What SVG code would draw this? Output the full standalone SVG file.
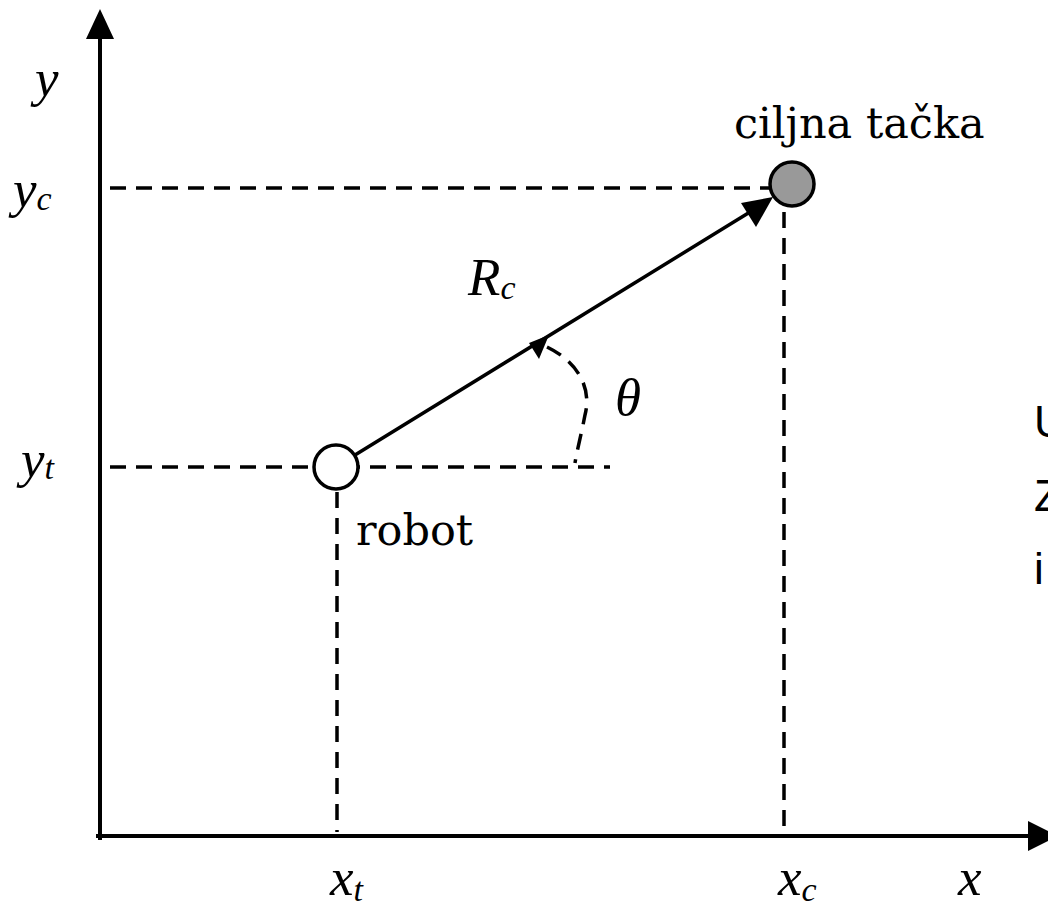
<svg xmlns="http://www.w3.org/2000/svg" width="1048" height="906" viewBox="0 0 1048 906">
<style>
.axis{stroke:#000;stroke-width:4;fill:none}
.dash{stroke:#000;stroke-width:3.5;fill:none;stroke-dasharray:16 10}
.vec{stroke:#000;stroke-width:3.5;fill:none}
.head{fill:#000;stroke:none}
.math{font-family:"Liberation Serif",serif;font-style:italic;font-size:53px;fill:#000}
.sub{font-size:34px}
.lbl{font-family:"DejaVu Serif","Liberation Serif",serif;font-size:43px;fill:#000}
.side{font-family:"Liberation Sans",Arial,sans-serif;font-size:44px;fill:#000}
</style>
<rect width="1048" height="906" fill="#fff"/>
<g id="axes">
  <line class="axis" x1="100" y1="840" x2="100" y2="36"/>
  <polygon class="head" points="100,9 86,39 114,39"/>
  <line class="axis" x1="96" y1="836" x2="1030" y2="836"/>
  <polygon class="head" points="1058,836 1028,821 1028,851"/>
</g>
<g id="connectors">
  <line class="dash" x1="110" y1="188" x2="770" y2="188"/>
  <line class="dash" x1="110" y1="467" x2="610" y2="467"/>
  <line class="dash" x1="784" y1="212" x2="784" y2="832"/>
  <line class="dash" x1="337" y1="492" x2="337" y2="832"/>
  <path class="dash" d="M547,347 C578,362 592,388 585,415 C581,436 577,450 575,463"/>
  <line class="vec" x1="355" y1="455" x2="750" y2="212"/>
  <polygon class="head" points="773,197 741,203 756,227"/>
  <polygon class="head" points="549,335 529,343 539,359"/>
</g>
<g id="robot">
  <circle cx="336" cy="467" r="22" fill="#fff" stroke="#000" stroke-width="3.5"/>
  <text class="lbl" x="356" y="545">robot</text>
</g>
<g id="goal">
  <circle cx="792" cy="184" r="22" fill="#999" stroke="#000" stroke-width="3.5"/>
  <text class="lbl" x="734" y="138">ciljna tačka</text>
</g>
<g id="labels">
  <text class="math" x="35" y="96">y</text>
  <text class="math" x="13" y="207">y<tspan class="sub" dy="3">c</tspan></text>
  <text class="math" x="21" y="477">y<tspan class="sub" dy="2">t</tspan></text>
  <text class="math" x="468" y="295">R<tspan class="sub" dy="4">c</tspan></text>
  <text class="math" x="615" y="415">θ</text>
  <text class="math" x="330" y="895">x<tspan class="sub" dy="6">t</tspan></text>
  <text class="math" x="778" y="895">x<tspan class="sub" dy="6">c</tspan></text>
  <text class="math" x="958" y="895">x</text>
</g>
<g id="side-text">
  <text class="side" x="1034" y="437">U</text>
  <text class="side" x="1034" y="511">Z</text>
  <text class="side" x="1034" y="584">i</text>
</g>
</svg>
